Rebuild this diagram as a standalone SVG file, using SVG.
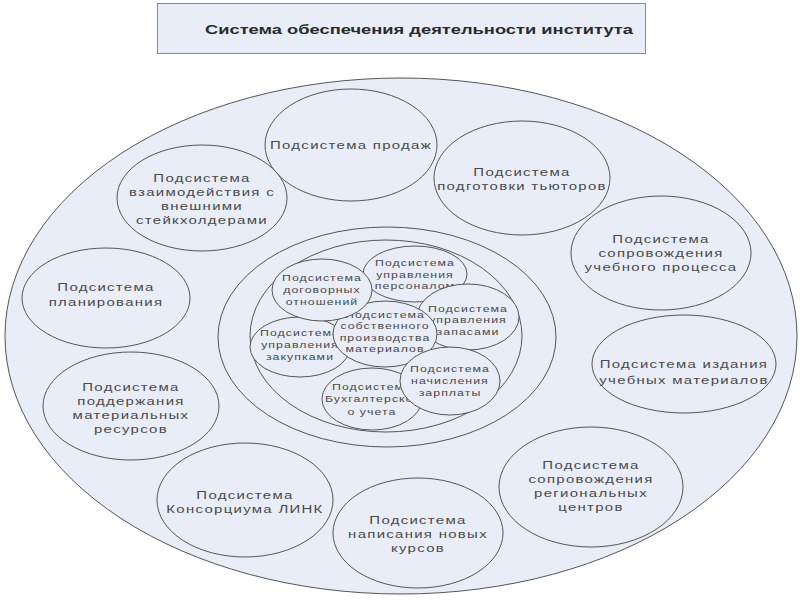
<svg xmlns="http://www.w3.org/2000/svg" width="800" height="600" viewBox="0 0 800 600">
<style>
.e{fill:#E8EDF7;stroke:#555;stroke-width:1}
.t{font-family:"Liberation Sans",Arial,sans-serif;font-size:11.5px;letter-spacing:1px;fill:#4a4a4a;text-anchor:middle}
.s{font-size:9.5px;letter-spacing:0.8px}
.h{font-family:"Liberation Sans",Arial,sans-serif;font-size:12.5px;font-weight:bold;fill:#2a2a2a;text-anchor:middle}
</style>
<rect width="800" height="600" fill="#fff"/>
<g id="title">
<rect x="157.5" y="3.5" width="488" height="50" fill="#E8EDF7" stroke="#888"/>
<text class="h" x="419" y="34" textLength="428" lengthAdjust="spacingAndGlyphs">Система обеспечения деятельности института</text>
</g>
<g id="system">
<ellipse class="e" cx="401" cy="336" rx="396" ry="258"/>
</g>
<g id="connectors"></g>
<g id="sales"><ellipse class="e" cx="351" cy="145" rx="86" ry="56"/>
<text class="t" transform="scale(1.3,1)"><tspan x="270" y="149">Подсистема продаж</tspan></text></g>
<g id="stakeholders"><ellipse class="e" cx="202" cy="198" rx="85" ry="53"/>
<text class="t" transform="scale(1.3,1)"><tspan x="155.38" y="182">Подсистема</tspan><tspan x="155.38" y="196">взаимодействия с</tspan><tspan x="155.38" y="210">внешними</tspan><tspan x="155.38" y="224">стейкхолдерами</tspan></text></g>
<g id="tutors"><ellipse class="e" cx="522" cy="178" rx="88" ry="57"/>
<text class="t" transform="scale(1.3,1)"><tspan x="401.54" y="176">Подсистема</tspan><tspan x="401.54" y="190">подготовки тьюторов</tspan></text></g>
<g id="learning"><ellipse class="e" cx="661" cy="253" rx="90" ry="57"/>
<text class="t" transform="scale(1.3,1)"><tspan x="508.46" y="243">Подсистема</tspan><tspan x="508.46" y="257">сопровождения</tspan><tspan x="508.46" y="271">учебного процесса</tspan></text></g>
<g id="planning"><ellipse class="e" cx="106" cy="298" rx="84" ry="50"/>
<text class="t" transform="scale(1.3,1)"><tspan x="81.54" y="291">Подсистема</tspan><tspan x="81.54" y="306">планирования</tspan></text></g>
<g id="resources"><ellipse class="e" cx="131" cy="406" rx="88" ry="54"/>
<text class="t" transform="scale(1.3,1)"><tspan x="100.77" y="391">Подсистема</tspan><tspan x="100.77" y="405">поддержания</tspan><tspan x="100.77" y="419">материальных</tspan><tspan x="100.77" y="433">ресурсов</tspan></text></g>
<g id="publishing"><ellipse class="e" cx="684" cy="364" rx="92" ry="49"/>
<text class="t" transform="scale(1.3,1)"><tspan x="526.15" y="368">Подсистема издания</tspan><tspan x="526.15" y="384">учебных материалов</tspan></text></g>
<g id="regional"><ellipse class="e" cx="591" cy="487" rx="92" ry="60"/>
<text class="t" transform="scale(1.3,1)"><tspan x="454.62" y="469">Подсистема</tspan><tspan x="454.62" y="483">сопровождения</tspan><tspan x="454.62" y="497">региональных</tspan><tspan x="454.62" y="511">центров</tspan></text></g>
<g id="link"><ellipse class="e" cx="245" cy="500" rx="88" ry="57"/>
<text class="t" transform="scale(1.3,1)"><tspan x="188.46" y="499">Подсистема</tspan><tspan x="188.46" y="513">Консорциума ЛИНК</tspan></text></g>
<g id="courses"><ellipse class="e" cx="418" cy="533" rx="85" ry="55"/>
<text class="t" transform="scale(1.3,1)"><tspan x="321.54" y="524">Подсистема</tspan><tspan x="321.54" y="538">написания новых</tspan><tspan x="321.54" y="552">курсов</tspan></text></g>
<g id="ring-outer"><ellipse class="e" cx="387" cy="337" rx="169" ry="110"/></g>
<g id="ring-inner"><ellipse class="e" cx="386" cy="336" rx="136" ry="96"/></g>
<g id="personnel"><ellipse class="e" cx="415" cy="274" rx="52" ry="28"/>
<text class="t s" transform="scale(1.3,1)"><tspan x="319.23" y="266">Подсистема</tspan><tspan x="319.23" y="278">управления</tspan><tspan x="319.23" y="289">персоналом</tspan></text></g>
<g id="stock"><ellipse class="e" cx="468" cy="317" rx="51" ry="33"/>
<text class="t s" transform="scale(1.3,1)"><tspan x="360" y="312">Подсистема</tspan><tspan x="360" y="323">управления</tspan><tspan x="360" y="335">запасами</tspan></text></g>
<g id="purchases"><ellipse class="e" cx="300" cy="347" rx="50" ry="30"/>
<text class="t s" transform="scale(1.3,1)"><tspan x="230.77" y="336">Подсистема</tspan><tspan x="230.77" y="348">управления</tspan><tspan x="230.77" y="360">закупками</tspan></text></g>
<g id="accounting"><ellipse class="e" cx="372" cy="399" rx="50" ry="31"/>
<text class="t s" transform="scale(1.3,1)"><tspan x="286.15" y="390">Подсистема</tspan><tspan x="286.15" y="402">Бухгалтерског</tspan><tspan x="286.15" y="415">о учета</tspan></text></g>
<g id="production"><ellipse class="e" cx="385" cy="334" rx="52" ry="33"/>
<text class="t s" transform="scale(1.3,1)"><tspan x="296.15" y="318">Подсистема</tspan><tspan x="296.15" y="329.5">собственного</tspan><tspan x="296.15" y="341">производства</tspan><tspan x="296.15" y="352.5">материалов</tspan></text></g>
<g id="contracts"><ellipse class="e" cx="322" cy="290" rx="50" ry="31"/>
<text class="t s" transform="scale(1.3,1)"><tspan x="247.69" y="281">Подсистема</tspan><tspan x="247.69" y="293">договорных</tspan><tspan x="247.69" y="305">отношений</tspan></text></g>
<g id="salary"><ellipse class="e" cx="450" cy="381" rx="50" ry="34"/>
<text class="t s" transform="scale(1.3,1)"><tspan x="346.15" y="372">Подсистема</tspan><tspan x="346.15" y="384">начисления</tspan><tspan x="346.15" y="396">зарплаты</tspan></text></g>
</svg>
